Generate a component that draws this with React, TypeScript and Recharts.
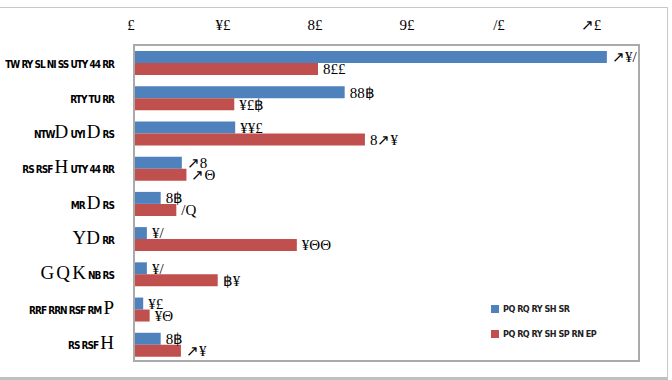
import React from "react";
import { BarChart, Bar, XAxis, YAxis, LabelList } from "recharts";

const categories = [
  "TW RY SL NI SS UTY 44 RR",
  "RTY TU RR",
  "NTWD UYI D RS",
  "RS RSF H UTY 44 RR",
  "MR D RS",
  "ΥD RR",
  "G Q K NB RS",
  "RRF RRN RSF RM P",
  "RS RSF H",
];
const seriesNames = ["PQ RQ RY SH SR", "PQ RQ RY SH SP RN EP"];
const blueValues = [51.4, 22.9, 11.0, 5.2, 2.9, 1.4, 1.4, 1.0, 2.9];
const redValues = [20.0, 10.9, 25.1, 5.7, 4.6, 17.7, 9.1, 1.7, 5.1];
const xTicks = [0, 10, 20, 30, 40, 50];
const xDomain = [0, 55];
const colors = ["#4F81BD", "#C0504D"];

// digits as they appear in the reference picture
const glyphs: Record<string, string> = {
  "0": "£", "1": "¥", "2": "8", "3": "9", "4": "/", "5": "↗",
  "6": "Q", "7": "Θ", "8": "8", "9": "฿", ".": "",
};
const toGlyph = (v: number | string, fixed = true) => {
  const s = typeof v === "number" ? (fixed ? v.toFixed(1) : String(v)) : String(v);
  return s.split("").map((c) => (c in glyphs ? glyphs[c] : c)).join("");
};

const data = categories.map((name, i) => ({
  name,
  a: blueValues[i],
  b: redValues[i],
}));

const BIG = "DHGQKPΥ";
const smallFont = {
  fontFamily: "'DejaVu Sans Condensed', sans-serif",
  fontWeight: "bold" as const,
  fontSize: 10,
  letterSpacing: -1,
};

function CatTick(props: any) {
  const { x, y, payload } = props;
  const s: string = payload.value;
  const runs: { t: string; big: boolean }[] = [];
  for (const ch of s) {
    const big = BIG.includes(ch);
    const last = runs[runs.length - 1];
    if (last && last.big === big) last.t += ch;
    else runs.push({ t: ch, big });
  }
  return (
    <text x={x} y={y} dy={5} textAnchor="end" fill="#000">
      {runs.map((r, i) => (
        <tspan
          key={i}
          style={
            r.big
              ? { fontFamily: "Liberation Serif", fontSize: 19 }
              : smallFont
          }
        >
          {r.t}
        </tspan>
      ))}
    </text>
  );
}

function LegendBox() {
  return (
    <div style={{ position: "absolute", left: 491, top: 296 }}>
      {seriesNames.map((n, i) => (
        <div
          key={n}
          style={{ display: "flex", alignItems: "center", height: 25 }}
        >
          <div
            style={{
              width: 8,
              height: 8,
              background: colors[i],
              marginRight: 4,
            }}
          />
          <span style={{ ...smallFont, fontSize: 9, letterSpacing: -0.5, color: "#222", whiteSpace: "nowrap" }}>
            {n}
          </span>
        </div>
      ))}
    </div>
  );
}

const labelStyle = { fontFamily: "Liberation Serif", fontSize: 15, fill: "#000" };

export default function App() {
  return (
    <div
      style={{
        position: "absolute",
        left: 0,
        top: 0,
        width: 672,
        height: 380,
        background: "#fff",
        overflow: "hidden",
      }}
    >
      <div
        style={{
          position: "absolute",
          left: -2,
          top: 7,
          width: 668,
          height: 369,
          border: "1px solid #c8c8c8",
          borderBottom: "3px solid #c0c0c0",
        }}
      />
      <div style={{ position: "absolute", left: 0, top: 0 }}>
        <BarChart
          width={672}
          height={380}
          data={data}
          layout="vertical"
          margin={{ top: 15, right: 32, bottom: 18, left: 9 }}
          barCategoryGap="17%"
          barGap={0}
        >
          <XAxis
            type="number"
            orientation="top"
            domain={xDomain}
            ticks={xTicks}
            height={30}
            tickLine={false}
            axisLine={false}
            tickMargin={9}
            tickFormatter={(v) => toGlyph(v, false)}
            tick={{ fontFamily: "Liberation Serif", fontSize: 15, fill: "#000", dx: -3 }}
          />
          <YAxis
            type="category"
            dataKey="name"
            width={125}
            tickLine={false}
            axisLine={false}
            tickMargin={14}
            tick={<CatTick />}
            interval={0}
          />
          <Bar dataKey="a" name={seriesNames[0]} fill={colors[0]} isAnimationActive={false}>
            <LabelList
              dataKey="a"
              position="right"
              offset={5}
              formatter={(v: any) => toGlyph(v)}
              style={labelStyle}
            />
          </Bar>
          <Bar dataKey="b" name={seriesNames[1]} fill={colors[1]} isAnimationActive={false}>
            <LabelList
              dataKey="b"
              position="right"
              offset={5}
              formatter={(v: any) => toGlyph(v)}
              style={labelStyle}
            />
          </Bar>
        </BarChart>
      </div>
      <div
        style={{
          position: "absolute",
          left: 133,
          top: 44,
          width: 507,
          height: 318,
          boxSizing: "border-box",
          border: "2px solid #aaaaaa",
          pointerEvents: "none",
        }}
      />
      <LegendBox />
    </div>
  );
}
